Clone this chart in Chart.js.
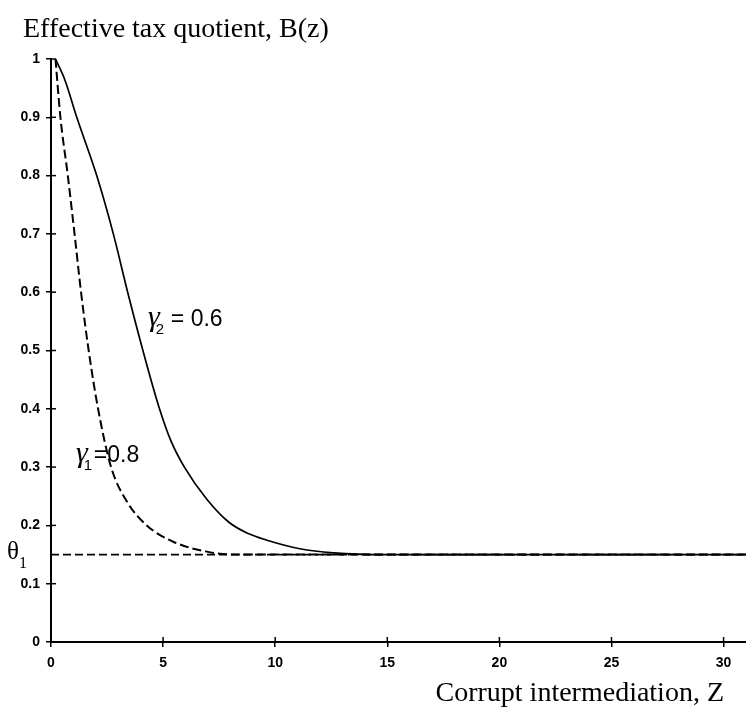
<!DOCTYPE html>
<html>
<head>
<meta charset="utf-8">
<script src="https://cdn.jsdelivr.net/npm/chart.js@4.4.1/dist/chart.umd.min.js"></script>
<style>
  html, body { margin: 0; padding: 0; background: #fff; }
  #wrap { position: relative; width: 746px; height: 725px; }
</style>
</head>
<body>
<div id="wrap"><canvas id="myChart" width="746" height="725"></canvas></div>
<script>
// values
const gamma1Z = [0.2, 0.42, 0.75, 1.05, 1.34, 1.68, 2.1, 2.68, 3.4, 4.27, 5.45, 6.95, 8.2, 31];
const gamma1B = [1.0, 0.9, 0.8, 0.7, 0.6, 0.5, 0.4, 0.3, 0.24, 0.2, 0.172, 0.155, 0.15, 0.15];

const gamma2Z = [0.2, 0.62, 1.15, 2.04, 2.78, 3.42, 4.1, 4.8, 5.35, 5.95, 6.95, 7.95, 8.8, 9.6, 11.1, 12.6, 15, 31];
const gamma2B = [1.0, 0.964, 0.9, 0.8, 0.7, 0.6, 0.5, 0.405, 0.345, 0.3, 0.245, 0.205, 0.186, 0.175, 0.16, 0.153, 0.15, 0.15];

const thetaZ = [0, 31];
const thetaB = [0.15, 0.15];

const xTicks = [0, 5, 10, 15, 20, 25, 30];
const yTicks = [0, 0.1, 0.2, 0.3, 0.4, 0.5, 0.6, 0.7, 0.8, 0.9, 1];

const yTitle = 'Effective tax quotient, B(z)';
const xTitle = 'Corrupt intermediation, Z';

function toPoints(xs, ys) {
  return xs.map((x, i) => ({ x: x, y: ys[i] }));
}

// tick marks that cross the axis lines, plus the text labels
const labelPlugin = {
  id: 'labels',
  afterDraw(chart) {
    const ctx = chart.ctx;
    const xs = chart.scales.x, ys = chart.scales.y;
    const area = chart.chartArea;
    ctx.save();
    ctx.strokeStyle = '#000';
    ctx.lineWidth = 1.5;
    xTicks.forEach(v => {
      const px = xs.getPixelForValue(v);
      ctx.beginPath(); ctx.moveTo(px, area.bottom); ctx.lineTo(px, area.bottom - 5); ctx.stroke();
    });
    yTicks.forEach(v => {
      const py = ys.getPixelForValue(v);
      ctx.beginPath(); ctx.moveTo(area.left, py); ctx.lineTo(area.left + 5, py); ctx.stroke();
    });

    ctx.fillStyle = '#000';
    ctx.textBaseline = 'alphabetic';
    ctx.font = '28px "Liberation Serif", "Times New Roman", serif';
    ctx.textAlign = 'left';
    ctx.fillText(yTitle, 23, 37);
    ctx.textAlign = 'right';
    ctx.fillText(xTitle, 724, 701);

    // theta_1
    ctx.textAlign = 'left';
    ctx.font = '25px "Liberation Serif", serif';
    const thY = ys.getPixelForValue(thetaB[0]);
    ctx.fillText('\u03B8', 7, thY + 4);
    ctx.font = '16px "Liberation Serif", serif';
    ctx.fillText('1', 19, thY + 13);

    // gamma labels
    function gammaLabel(x, y, sub, gap, rest) {
      ctx.font = 'italic 30px "Liberation Serif", serif';
      ctx.fillText('\u03B3', x, y);
      const w = ctx.measureText('\u03B3').width;
      ctx.font = '15px "Liberation Sans", Arial, sans-serif';
      ctx.fillText(sub, x + w - 4, y + 8);
      ctx.font = '23px "Liberation Sans", Arial, sans-serif';
      ctx.fillText(rest, x + w + gap, y);
    }
    gammaLabel(148, 326, '2', 11, '= 0.6');
    gammaLabel(76, 462, '1', 6, '=0.8');
    ctx.restore();
  }
};

const ctx = document.getElementById('myChart').getContext('2d');
new Chart(ctx, {
  type: 'scatter',
  data: {
    datasets: [
      {
        label: 'gamma2',
        data: toPoints(gamma2Z, gamma2B),
        showLine: true,
        borderColor: '#000',
        borderWidth: 1.7,
        pointRadius: 0,
        cubicInterpolationMode: 'monotone'
      },
      {
        label: 'gamma1',
        data: toPoints(gamma1Z, gamma1B),
        showLine: true,
        borderColor: '#000',
        borderWidth: 2,
        borderDash: [9, 4],
        pointRadius: 0,
        cubicInterpolationMode: 'monotone'
      },
      {
        label: 'theta1',
        data: toPoints(thetaZ, thetaB),
        showLine: true,
        borderColor: '#000',
        borderWidth: 1.8,
        borderDash: [8, 4],
        pointRadius: 0
      }
    ]
  },
  options: {
    responsive: false,
    animation: false,
    layout: { padding: { top: 59, right: 0, left: 0, bottom: 0 } },
    plugins: {
      legend: { display: false },
      tooltip: { enabled: false }
    },
    scales: {
      x: {
        type: 'linear',
        min: 0,
        max: 31,
        afterFit(scale) { scale.height = 83; },
        border: { display: true, color: '#000', width: 2 },
        grid: { drawOnChartArea: false, color: '#000', tickLength: 5, lineWidth: 1.5 },
        ticks: {
          stepSize: 5,
          includeBounds: false,
          color: '#000',
          padding: 8,
          font: { family: '"Liberation Sans", Arial, sans-serif', size: 14, weight: 'bold' }
        }
      },
      y: {
        type: 'linear',
        min: 0,
        max: 1,
        afterFit(scale) { scale.width = 51; },
        border: { display: true, color: '#000', width: 2 },
        grid: { drawOnChartArea: false, color: '#000', tickLength: 5, lineWidth: 1.5 },
        ticks: {
          stepSize: 0.1,
          color: '#000',
          padding: 6,
          callback: v => String(Math.round(v * 10) / 10),
          font: { family: '"Liberation Sans", Arial, sans-serif', size: 14, weight: 'bold' }
        }
      }
    }
  },
  plugins: [labelPlugin]
});
</script>
</body>
</html>
